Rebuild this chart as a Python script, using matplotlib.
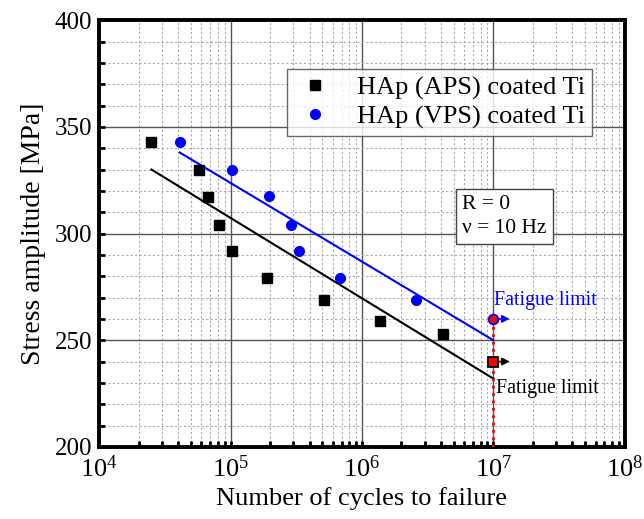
import numpy as np
import matplotlib.pyplot as plt
from matplotlib.ticker import LogLocator, MultipleLocator, NullFormatter

plt.rcParams['font.family'] = ['Liberation Serif', 'DejaVu Serif']
plt.rcParams['mathtext.fontset'] = 'stix'

# data
aps_n = [2.5e4, 5.8e4, 6.7e4, 8.1e4, 1.03e5, 1.9e5, 5.1e5, 1.37e6, 4.15e6]
aps_s = [343, 330, 317, 304, 292, 279, 269, 259, 253]
vps_n = [4.1e4, 1.02e5, 1.95e5, 2.9e5, 3.3e5, 6.8e5, 2.6e6]
vps_s = [343, 330, 317.5, 304, 292, 279, 269]

# fitted lines (end points)
aps_fit_n = [2.5e4, 1e7]
aps_fit_s = [330, 232]
vps_fit_n = [4.1e4, 1e7]
vps_fit_s = [338, 250]

# fatigue limits
limit_n = 1e7
aps_limit = 240
vps_limit = 260

fig = plt.figure(figsize=(6.44, 5.19), dpi=100)
ax = fig.add_axes([0.154, 0.139, 0.816, 0.822])

ax.plot(aps_fit_n, aps_fit_s, color='black', lw=1.5, zorder=3)
ax.plot(vps_fit_n, vps_fit_s, color='blue', lw=1.5, zorder=3)
ax.plot(aps_n, aps_s, 's', color='black', ms=6.5, label='HAp (APS) coated Ti', zorder=4)
ax.plot(vps_n, vps_s, 'o', color='blue', ms=7, label='HAp (VPS) coated Ti', zorder=4)

# fatigue limit markers
ax.plot([limit_n, limit_n], [200, vps_limit], color='red', lw=2, ls=':', zorder=3)
ax.plot(limit_n, aps_limit, 's', mfc='red', mec='black', mew=1.3, ms=7, zorder=5)
ax.plot(limit_n, vps_limit, 'o', mfc='red', mec='blue', mew=1.3, ms=7, zorder=5)
ax.annotate('', xy=(1.4e7, aps_limit), xytext=(1.06e7, aps_limit),
            arrowprops=dict(arrowstyle='-|>', color='black', lw=1.2, mutation_scale=11))
ax.annotate('', xy=(1.4e7, vps_limit), xytext=(1.06e7, vps_limit),
            arrowprops=dict(arrowstyle='-|>', color='blue', lw=1.2, mutation_scale=11))
ax.text(1.02e7, 268.5, 'Fatigue limit', color='blue', fontsize=14.3, va='center', ha='left')
ax.text(1.04e7, 227.5, 'Fatigue limit', color='black', fontsize=14.3, va='center', ha='left')

ax.text(5.8e6, 308, 'R = 0\n\u03bd = 10 Hz', fontsize=15.5, va='center', ha='left',
        linespacing=1.3,
        bbox=dict(boxstyle='square,pad=0.3', fc='white', ec='#444444', lw=1))

ax.set_xscale('log')
ax.set_xlim(1e4, 1e8)
ax.set_ylim(200, 400)
ax.xaxis.set_major_locator(LogLocator(base=10, numticks=10))
ax.xaxis.set_minor_locator(LogLocator(base=10, subs=np.arange(2, 10), numticks=10))
ax.xaxis.set_minor_formatter(NullFormatter())
ax.yaxis.set_major_locator(MultipleLocator(50))
ax.yaxis.set_minor_locator(MultipleLocator(10))

ax.grid(which='major', color='#555555', lw=1, ls='-')
ax.grid(which='minor', color='#aaaaaa', lw=0.8, ls=(0, (2, 2)))
ax.set_axisbelow(True)

ax.tick_params(which='both', direction='in', width=2, length=4)
ax.tick_params(axis='y', labelsize=18, pad=5)
ax.tick_params(axis='x', labelsize=19, pad=6)
for sp in ax.spines.values():
    sp.set_linewidth(2.8)

ax.set_xlabel('Number of cycles to failure', fontsize=19, labelpad=4)
ax.set_ylabel('Stress amplitude [MPa]', fontsize=20, labelpad=6)

leg = ax.legend(loc='upper right', bbox_to_anchor=(0.937, 0.885), fontsize=19,
                frameon=True, fancybox=False, edgecolor='#444444',
                handletextpad=0.8, borderpad=0.25, handlelength=1.6,
                labelspacing=0.2, borderaxespad=0)
leg.get_frame().set_linewidth(1)

fig.savefig('out.png', dpi=100)
